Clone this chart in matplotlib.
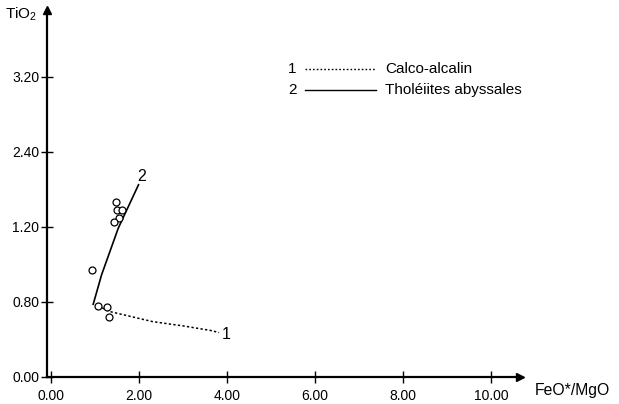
import matplotlib
matplotlib.use("Agg")
import matplotlib.pyplot as plt

plt.rcParams['font.family'] = ['Liberation Sans', 'DejaVu Sans']
plt.rcParams['mathtext.default'] = 'regular'

# échantillons (FeO*/MgO, TiO2)
ech_x = [1.48, 1.49, 1.62, 1.545, 1.425, 0.94, 1.08, 1.27, 1.32]
ech_y = [1.867, 1.774, 1.774, 1.693, 1.650, 1.141, 0.760, 0.743, 0.637]

# 1 : tendance calco-alcaline
calco_x = [1.07, 1.34, 2.31, 3.01, 3.65, 3.82]
calco_y = [0.757, 0.697, 0.59, 0.544, 0.494, 0.473]

# 2 : tendance tholéiites abyssales
thol_x = [0.96, 1.15, 1.53, 1.99]
thol_y = [0.775, 1.088, 1.586, 2.048]

xticks = [0, 2, 4, 6, 8, 10]
xlabels = ["0.00", "2.00", "4.00", "6.00", "8.00", "10.00"]
yticks = [0, 0.8, 1.6, 2.4, 3.2]
ylabels = ["0.00", "0.80", "1.20", "2.40", "3.20"]

fig = plt.figure(figsize=(6.19, 4.04), dpi=100)
ax = fig.add_axes([47/619, 1 - 377/404, 473/619, 367/404])
ax.set_xlim(-0.09, 10.66)
ax.set_ylim(0, 3.91)

ax.plot(thol_x, thol_y, color='black', lw=1.2)
ax.plot(calco_x, calco_y, color='black', lw=1.1, linestyle=(0, (1.5, 1.5)))
ax.plot(ech_x, ech_y, 'o', mfc='white', mec='black', ms=5, mew=0.9)

ax.text(2.07, 2.14, "2", fontsize=11.5, ha='center', va='center')
ax.text(3.98, 0.448, "1", fontsize=11.5, ha='center', va='center')

# légende
ax.text(5.48, 3.285, "1", fontsize=11, ha='center', va='center')
ax.plot([5.78, 7.39], [3.285, 3.285], color='black', lw=1.0,
        linestyle=(0, (1.2, 1.5)))
ax.text(7.60, 3.285, "Calco-alcalin", fontsize=11, va='center')
ax.text(5.48, 3.06, "2", fontsize=11, ha='center', va='center')
ax.plot([5.78, 7.39], [3.06, 3.06], color='black', lw=1.0)
ax.text(7.60, 3.06, "Tholéiites abyssales", fontsize=11, va='center')

for s in ['top', 'right']:
    ax.spines[s].set_visible(False)
for s in ['left', 'bottom']:
    ax.spines[s].set_linewidth(1.6)

ax.plot(1, 0, '>', color='black', ms=6, transform=ax.transAxes, clip_on=False)
ax.plot(0, 1, '^', color='black', ms=6, transform=ax.transAxes, clip_on=False)

ax.set_xticks(xticks)
ax.set_xticklabels(xlabels)
ax.set_yticks(yticks)
ax.set_yticklabels(ylabels)
ax.tick_params(direction='inout', length=9, width=1, labelsize=10)
ax.tick_params(axis='y', pad=1)
ax.tick_params(axis='x', pad=4)

fig.text(5/619, 1 - 14/404, "TiO$_2$", fontsize=11, va='center')
fig.text(535/619, 1 - 391/404, "FeO*/MgO", fontsize=11.3, va='center')

fig.savefig("out.png", dpi=100)
